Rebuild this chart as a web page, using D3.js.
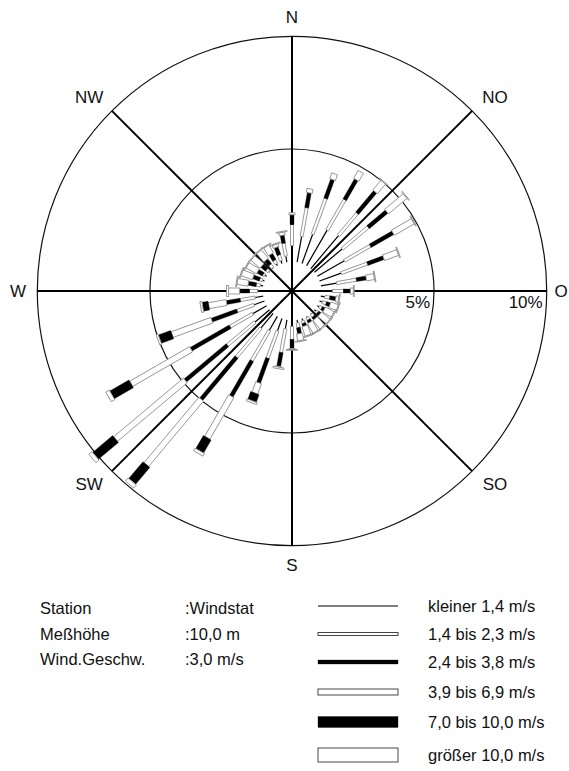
<!DOCTYPE html>
<html>
<head>
<meta charset="utf-8">
<script src="https://cdn.jsdelivr.net/npm/d3@7"></script>
<style>
  html, body { margin: 0; padding: 0; background: #fff; }
  svg { display: block; }
  text { font-family: "Liberation Sans", Arial, Helvetica, sans-serif; fill: #111; }
</style>
</head>
<body>
<svg id="rose" width="569" height="771"></svg>
<script>
// Wind directions in degrees (0 = north, clockwise), 10° sectors
const directions = d3.range(0, 360, 10);

// Frequency (%) per direction for each wind speed class
const speedLt14   = [0.71,1.16,1.38,1.82,1.91,1.60,1.38,1.02,0.71,0.49,0.18,0.13,0.09,0.09,0.04,0.04,0.09,0.13,0.27,0.40,0.58,0.71,0.84,0.84,0.71,0.49,0.36,0.22,0.13,0.09,0.09,0.04,0.04,0.09,0.13,0.27];
const speed14_23  = [0.93,1.29,1.69,1.56,1.29,1.51,1.33,1.24,0.89,0.49,0.22,0.18,0.13,0.09,0.13,0.13,0.13,0.22,0.58,1.07,1.29,1.56,1.69,1.60,1.16,0.80,0.67,0.36,0.18,0.13,0.09,0.13,0.18,0.18,0.27,0.58];
const speed24_38  = [0.44,0.67,0.89,1.02,1.24,1.07,1.16,0.76,0.44,0.31,0.27,0.18,0.13,0.13,0.13,0.13,0.13,0.27,0.40,0.62,1.16,1.82,2.44,2.44,2.00,1.20,0.62,0.44,0.36,0.31,0.27,0.27,0.27,0.31,0.36,0.36];
const speed39_69  = [0.09,0.18,0.27,0.40,0.56,1.07,1.02,0.67,0.36,0.13,0.13,0.36,0.44,0.49,0.49,0.49,0.44,0.31,0.04,0.04,0.49,2.13,3.78,4.04,3.07,1.87,0.80,0.49,0.49,0.53,0.53,0.53,0.49,0.40,0.13,0.13];
const speed70_100 = [0,0,0,0,0,0,0,0,0,0,0,0,0,0,0,0,0,0,0,0,0.36,0.67,0.98,1.16,0.98,0.58,0.27,0,0,0,0,0,0,0,0,0];
const speedGt100  = [0,0,0,0,0.04,0.04,0.04,0.04,0.04,0.04,0.04,0.04,0.04,0.04,0.04,0.04,0.04,0.04,0.04,0.07,0.09,0.13,0.18,0.18,0.18,0.09,0.09,0.09,0.04,0.04,0.04,0.04,0.04,0.04,0.04,0.04];

const classLabels = ["kleiner 1,4 m/s", "1,4 bis 2,3 m/s", "2,4 bis 3,8 m/s", "3,9 bis 6,9 m/s", "7,0 bis 10,0 m/s", "größer 10,0 m/s"];
const compassLabels = ["N", "NO", "O", "SO", "S", "SW", "W", "NW"];
const ringTicks = [5, 10];
const ringLabels = ["5%", "10%"];
const stationInfo = [["Station", ":Windstat"], ["Meßhöhe", ":10,0 m"], ["Wind.Geschw.", ":3,0 m/s"]];

const series = [speedLt14, speed14_23, speed24_38, speed39_69, speed70_100, speedGt100];

// Drawing style per speed class: bar thickness and fill
const classStyle = [
  { w: 1,  kind: "line" },
  { w: 3,  kind: "open" },
  { w: 4,  kind: "solid" },
  { w: 6,  kind: "open" },
  { w: 9,  kind: "solid" },
  { w: 11, kind: "open" }
];

const svg = d3.select("#rose");
const cx = 292, cy = 291;
const r = d3.scaleLinear().domain([0, 10]).range([29.3, 254.7]);
const outerR = r(10);

const g = svg.append("g").attr("transform", `translate(${cx},${cy})`);

// Rings
g.selectAll("circle.ring").data(ringTicks).join("circle")
  .attr("class", "ring").attr("r", d => r(d))
  .attr("fill", "none").attr("stroke", "#111").attr("stroke-width", 1.2);

// Axes through the centre: 8 compass directions
const axisAngles = d3.range(0, 360, 45);
g.selectAll("line.axis").data(axisAngles).join("line")
  .attr("class", "axis")
  .attr("x1", 0).attr("y1", 0)
  .attr("x2", d => outerR * Math.sin(d * Math.PI / 180))
  .attr("y2", d => -outerR * Math.cos(d * Math.PI / 180))
  .attr("stroke", "#000").attr("stroke-width", 2);

// Stacked bars per direction
const stacks = directions.map((dir, i) => {
  let acc = 0;
  return series.map((s, k) => {
    const v = s[i];
    const seg = { dir, k, p0: acc, p1: acc + v };
    acc += v;
    return seg;
  });
});

const barG = g.selectAll("g.dir").data(stacks).join("g")
  .attr("class", "dir")
  .attr("transform", d => `rotate(${d[0].dir})`);

barG.each(function(segs) {
  const sel = d3.select(this);
  segs.forEach(seg => {
    const st = classStyle[seg.k];
    const y0 = -r(seg.p1), y1 = -r(seg.p0);
    if (seg.p1 - seg.p0 <= 0) return;
    if (st.kind === "line") {
      sel.append("line").attr("x1", 0).attr("x2", 0).attr("y1", y0).attr("y2", y1)
        .attr("stroke", "#000").attr("stroke-width", 1.2);
    } else {
      sel.append("rect")
        .attr("x", -st.w / 2).attr("width", st.w)
        .attr("y", y0).attr("height", Math.max(y1 - y0, 0.8))
        .attr("fill", st.kind === "solid" ? "#000" : "#fff")
        .attr("stroke", st.kind === "solid" ? "#000" : "#888")
        .attr("stroke-width", st.kind === "solid" ? 0.3 : 0.8);
    }
  });
});

// Compass labels (axis labels on a circle, diagonal ones slightly further out)
const labelPos = compassLabels.map((t, i) => {
  const a = i * 45 * Math.PI / 180;
  const rx = i % 2 === 0 ? (i === 2 ? 269 : 274) : 287;
  const ry = 274;
  return { t, x: rx * Math.sin(a), y: -ry * Math.cos(a) };
});
g.selectAll("text.compass").data(labelPos).join("text")
  .attr("class", "compass")
  .attr("x", d => d.x).attr("y", d => d.y)
  .attr("text-anchor", "middle").attr("dominant-baseline", "central")
  .attr("font-size", 17).text(d => d.t);

// Ring labels on the east axis
g.selectAll("text.ringlab").data(ringTicks).join("text")
  .attr("class", "ringlab")
  .attr("x", d => r(d) - 4).attr("y", 17)
  .attr("text-anchor", "end").attr("font-size", 17)
  .text((d, i) => ringLabels[i]);

// Station info block
const info = svg.append("g");
stationInfo.forEach((row, i) => {
  const y = 614 + i * 25.5;
  info.append("text").attr("x", 40).attr("y", y).attr("font-size", 16.5).text(row[0]);
  info.append("text").attr("x", 185).attr("y", y).attr("font-size", 16.5).text(row[1]);
});

// Legend
const legendY = [606, 634, 662, 692, 722, 755];
const lx0 = 318, lx1 = 398;
const leg = svg.append("g");
classLabels.forEach((lab, k) => {
  const st = classStyle[k];
  const y = legendY[k];
  if (st.kind === "line") {
    leg.append("line").attr("x1", lx0).attr("x2", lx1).attr("y1", y).attr("y2", y)
      .attr("stroke", "#000").attr("stroke-width", 1.2);
  } else {
    const h = [0, 3, 4, 6, 11, 14][k];
    leg.append("rect").attr("x", lx0).attr("y", y - h / 2).attr("width", lx1 - lx0).attr("height", h)
      .attr("fill", st.kind === "solid" ? "#000" : "#fff")
      .attr("stroke", st.kind === "solid" ? "#000" : "#333")
      .attr("stroke-width", st.kind === "solid" ? 0.3 : 0.9);
  }
  leg.append("text").attr("x", 428).attr("y", y + 6).attr("font-size", 16.5).text(lab);
});
</script>
</body>
</html>
